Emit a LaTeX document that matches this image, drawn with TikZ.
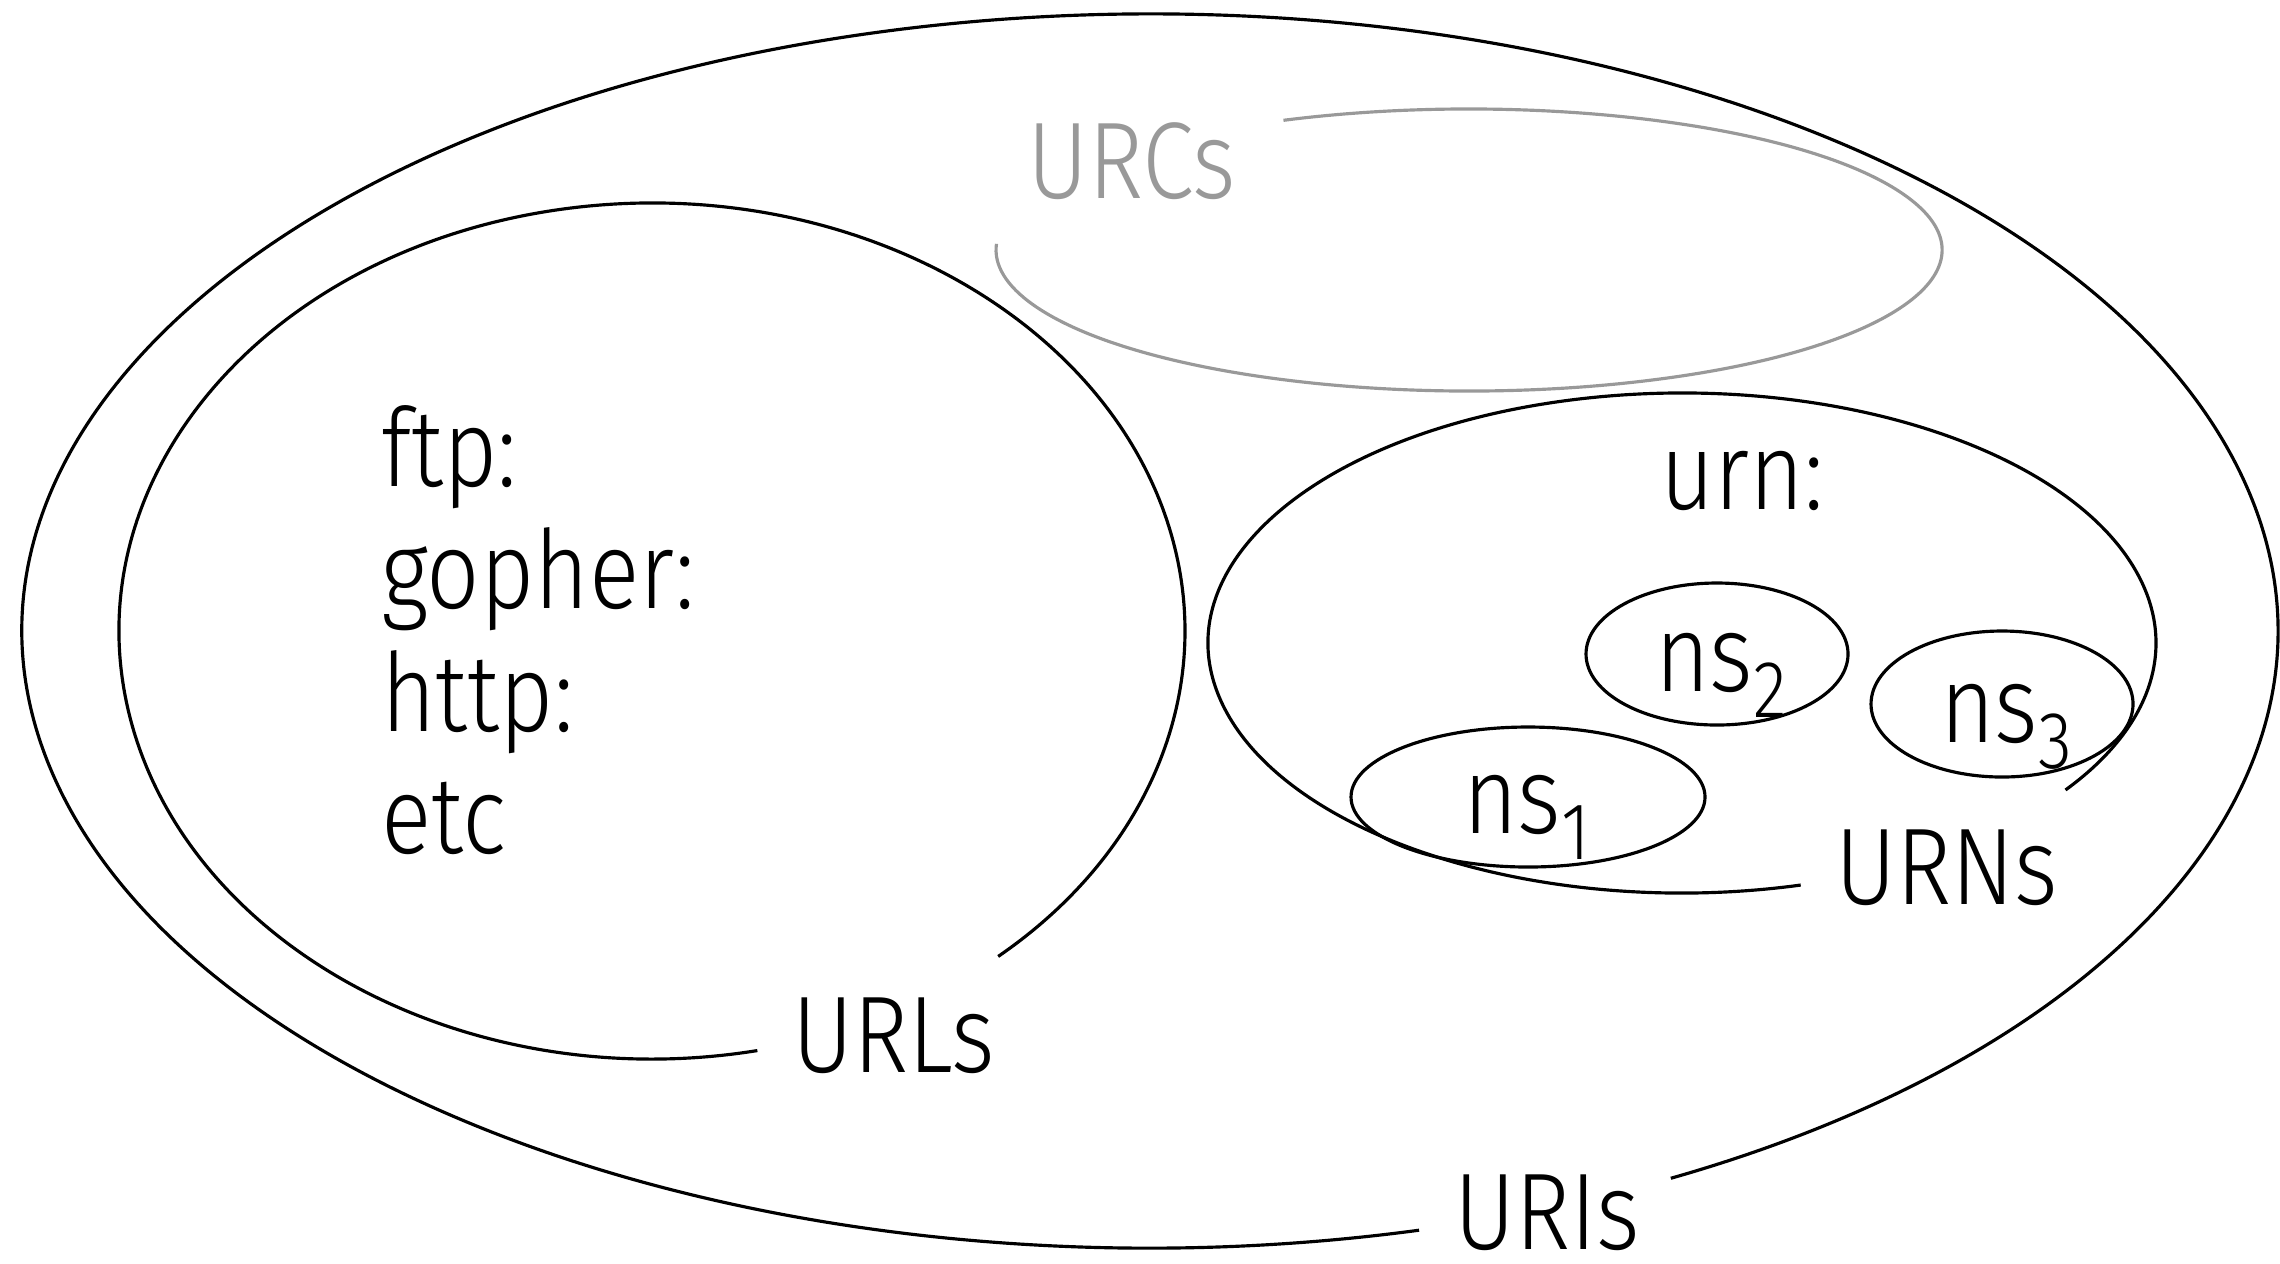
\documentclass[tikz,border=0pt]{standalone}
\usepackage{fontspec}
\setmainfont{Fira Sans Light}[FakeStretch=0.86]
\definecolor{urcgray}{HTML}{999999}
\newcommand\nsub[1]{\raisebox{-0.26cm}{\fontsize{23}{27}\selectfont #1}}
\begin{document}
\begin{tikzpicture}[x=0.01cm,y=-0.01cm,
  every node/.style={inner sep=0pt,outer sep=0pt},
  lbl/.style={anchor=base west,font=\fontsize{31}{37}\selectfont},
  ring/.style={draw=black,line width=0.9pt},
  grayring/.style={draw=urcgray,line width=0.9pt}]
\useasboundingbox (0,0) rectangle (2280,1263);
\coordinate (uri) at (1150,631);
\coordinate (url) at (652,631);
\coordinate (urc) at (1469,250);
\coordinate (urnc) at (1682,643);
% URIs
\draw[ring] ([shift={(76.2:1128 and 617)}]uri) arc[start angle=76.2,end angle=422.5,x radius=1128,y radius=617];
% URLs
\draw[ring] ([shift={(78.6:533 and 428)}]url) arc[start angle=78.6,end angle=409.5,x radius=533,y radius=428];
% URCs
\draw[grayring] ([shift={(246.9:473 and 141)}]urc) arc[start angle=246.9,end angle=542.5,x radius=473,y radius=141];
% URNs
\draw[ring] ([shift={(75.5:474 and 250)}]urnc) arc[start angle=75.5,end angle=396,x radius=474,y radius=250];
% namespaces
\draw[ring] (1717,654) ellipse[x radius=131,y radius=71];
\draw[ring] (2002,704) ellipse[x radius=131,y radius=73];
\draw[ring] (1528,797) ellipse[x radius=177,y radius=70];
% labels
\node[lbl] (ftp) at (381,486) {ftp:};
\node[lbl] (gopher) at (381,608) {gopher:};
\node[lbl] (http) at (381,731) {http:};
\node[lbl] (etc) at (381,853) {etc};
\node[lbl] (urn) at (1660,509) {urn:};
\node[lbl] (ns1) at (1463,833) {ns\nsub{1}};
\node[lbl] (ns2) at (1655,691) {ns\nsub{2}};
\node[lbl] (ns3) at (1940,742) {ns\nsub{3}};
\node[lbl] (urls) at (792,1072) {URLs};
\node[lbl] (urns) at (1835,904) {URNs};
\node[lbl] (uris) at (1454,1249) {URIs};
\node[lbl,text=urcgray] (urcs) at (1027,198) {URCs};
\end{tikzpicture}
\end{document}
